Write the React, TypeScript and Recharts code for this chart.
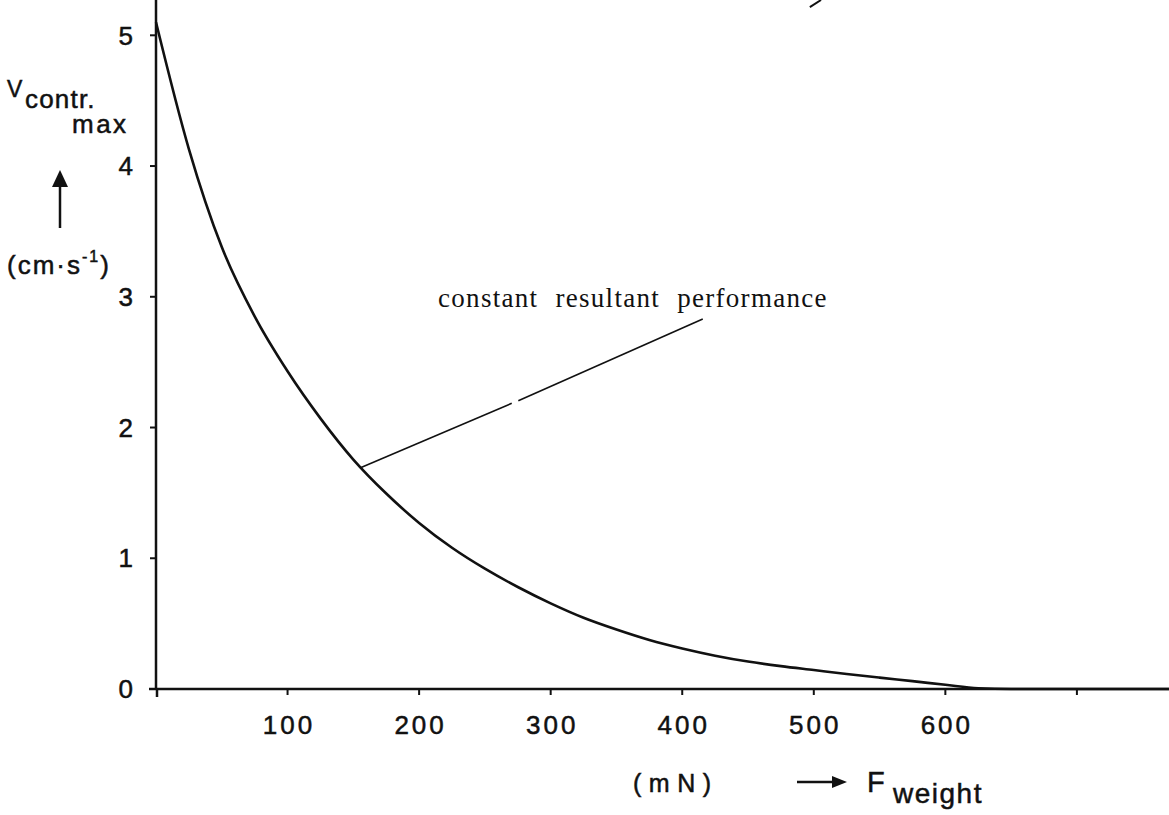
import React from 'react';
import { LineChart, Line, XAxis, YAxis, ReferenceLine } from 'recharts';

// force on the weight (mN) and the max contraction speed (cm/s)
const weights = [0, 25, 50, 75, 100, 125, 150, 175, 200, 225, 250, 275, 300, 325, 350, 375, 400, 425, 450, 475, 500, 525, 550, 575, 600, 625, 650, 770];
const velocity = [5.1, 4.13, 3.38, 2.85, 2.43, 2.07, 1.755, 1.495, 1.27, 1.08, 0.92, 0.78, 0.655, 0.545, 0.455, 0.375, 0.31, 0.255, 0.21, 0.175, 0.145, 0.115, 0.087, 0.06, 0.032, 0.006, 0, 0];

const xTicks = [100, 200, 300, 400, 500, 600, 700];
const yTicks = [0, 1, 2, 3, 4, 5];

// leader line of the annotation, broken in two pieces
const leaderA = [{ x: 155, y: 1.69 }, { x: 270.4, y: 2.185 }];
const leaderB = [{ x: 275.4, y: 2.205 }, { x: 415.6, y: 2.83 }];
const topScrap = [{ x: 497, y: 5.216 }, { x: 505.5, y: 5.27 }];

const data = weights.map((w, i) => ({ w, v: velocity[i] }));

const sans = '"Liberation Sans", Arial, sans-serif';
const tickStyle = { fill: '#111', stroke: '#111', strokeWidth: 0.5, fontSize: 26, fontFamily: sans };

const App = () => {
  return (
    <div style={{ position: 'absolute', left: 0, top: 0, width: 1169, height: 815, background: '#fff' }}>
      <LineChart width={1169} height={815} data={data} margin={{ top: 0, right: 0, bottom: 0, left: 0 }}>
        <XAxis
          dataKey="w"
          type="number"
          domain={[0, 770]}
          ticks={xTicks}
          interval={0}
          height={126}
          tickSize={6}
          tickMargin={21}
          tickFormatter={(v: number) => (v === 700 ? '' : String(v))}
          tick={{ ...tickStyle, letterSpacing: 3, dx: 1.5 }}
          axisLine={{ stroke: '#111', strokeWidth: 2.5 }}
          tickLine={{ stroke: '#111', strokeWidth: 2 }}
        />
        <YAxis
          type="number"
          domain={[0, 5.27]}
          ticks={yTicks}
          interval={0}
          width={156}
          tickSize={6}
          tickMargin={17}
          tick={tickStyle}
          axisLine={{ stroke: '#111', strokeWidth: 2.5 }}
          tickLine={{ stroke: '#111', strokeWidth: 2 }}
        />
        <ReferenceLine segment={leaderA} stroke="#111" strokeWidth={1.6} ifOverflow="visible" />
        <ReferenceLine segment={leaderB} stroke="#111" strokeWidth={1.6} ifOverflow="visible" />
        <ReferenceLine segment={topScrap} stroke="#111" strokeWidth={2} ifOverflow="visible" />
        <Line
          type="monotone"
          dataKey="v"
          stroke="#111"
          strokeWidth={2.6}
          dot={false}
          activeDot={false}
          isAnimationActive={false}
        />
      </LineChart>
      <svg width={1169} height={815} style={{ position: 'absolute', left: 0, top: 0, pointerEvents: 'none' }}>
        {/* axes overshoot a little past their crossing */}
        <line x1={157} y1={689} x2={157} y2={697} stroke="#111" strokeWidth={2.5} />
        <line x1={149} y1={689} x2={157} y2={689} stroke="#111" strokeWidth={2.5} />
        <g fill="#111" stroke="#111" strokeWidth={0.5} fontFamily={sans}>
          <text x={7} y={97} fontSize={23}>V</text>
          <text x={25} y={108} fontSize={26} letterSpacing={1.2}>contr.</text>
          <text x={72} y={133} fontSize={26} letterSpacing={2.5}>max</text>
          <text x={7} y={274} fontSize={26} letterSpacing={2}>
            (cm·s<tspan fontSize={16} dy={-12}>-1</tspan><tspan dy={12}>)</tspan>
          </text>
          <text x={633} y={792} fontSize={25} letterSpacing={7.5}>(mN)</text>
          <text x={867} y={792} fontSize={29}>F</text>
          <text x={893} y={803} fontSize={28} letterSpacing={1.5}>weight</text>
        </g>
        <line x1={60} y1={228} x2={60} y2={184} stroke="#111" strokeWidth={2.5} />
        <polygon points="52,187 68,187 60,170" fill="#111" />
        <line x1={797} y1={782} x2={836} y2={782} stroke="#111" strokeWidth={2.5} />
        <polygon points="832,776 832,788 847,782" fill="#111" />
        <text
          x={438}
          y={307}
          fontSize={27}
          fontFamily='"Liberation Serif", "Times New Roman", serif'
          letterSpacing={1.3}
          wordSpacing={9}
          fill="#111"
        >
          constant resultant performance
        </text>
      </svg>
    </div>
  );
};

export default App;
